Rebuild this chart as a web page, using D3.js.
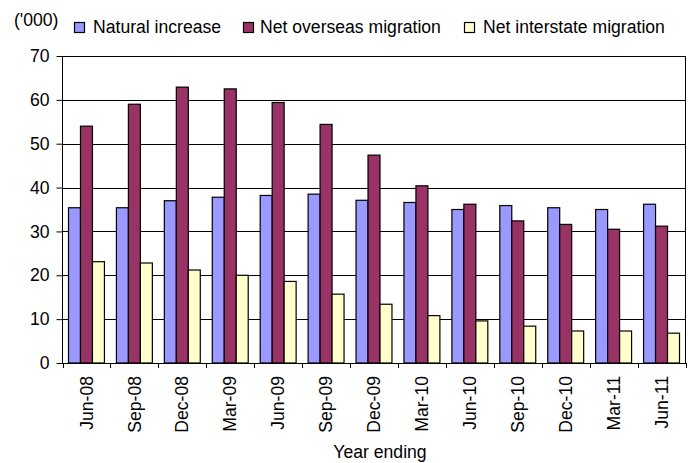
<!DOCTYPE html>
<html>
<head>
<meta charset="utf-8">
<script src="https://cdn.jsdelivr.net/npm/d3@7"></script>
<style>
  body { margin: 0; background: #fff; }
  text { font-family: "Liberation Sans", Arial, sans-serif; fill: #000; }
</style>
</head>
<body>
<div id="container"></div>
<script>
// chart data
var categories = ["Jun-08","Sep-08","Dec-08","Mar-09","Jun-09","Sep-09","Dec-09",
                  "Mar-10","Jun-10","Sep-10","Dec-10","Mar-11","Jun-11"];
var naturalIncrease = [35.4, 35.4, 37.0, 37.8, 38.2, 38.5, 37.1, 36.6, 35.0, 35.9, 35.4, 35.0, 36.2];
var netOverseas     = [54.0, 59.0, 62.9, 62.5, 59.4, 54.4, 47.4, 40.4, 36.2, 32.4, 31.6, 30.5, 31.2];
var netInterstate   = [23.1, 22.8, 21.2, 20.0, 18.6, 15.7, 13.4, 10.8, 9.6, 8.4, 7.3, 7.3, 6.8];
var seriesNames = ["Natural increase", "Net overseas migration", "Net interstate migration"];
var yTicks = [0, 10, 20, 30, 40, 50, 60, 70];

var seriesValues = [naturalIncrease, netOverseas, netInterstate];
var colors = ["#9999FF", "#993366", "#FFFFCC"];

var width = 693, height = 463;
// plot area edges (named so they don't clash with window.top)
var plotLeft = 62.5, plotRight = 685.5, plotTop = 56, plotBottom = 363;
var fontSize = "17.6px";

var svg = d3.select("#container").append("svg")
    .attr("width", width)
    .attr("height", height);

// scales
var x0 = d3.scaleBand()
    .domain(categories)
    .range([plotLeft, plotRight])
    .paddingInner(0.25)
    .paddingOuter(0.125);

var x1 = d3.scaleBand()
    .domain(d3.range(seriesNames.length))
    .range([0, x0.bandwidth()]);

var y = d3.scaleLinear()
    .domain([0, 70])
    .range([plotBottom, plotTop]);

// gridlines
svg.append("g")
    .selectAll("line")
    .data(yTicks)
    .join("line")
    .attr("x1", plotLeft)
    .attr("x2", plotRight)
    .attr("y1", function(d){ return Math.round(y(d)) + 0.5; })
    .attr("y2", function(d){ return Math.round(y(d)) + 0.5; })
    .style("stroke", "#000")
    .style("stroke-width", 1);

// bars
var groups = svg.append("g")
    .selectAll("g")
    .data(categories)
    .join("g")
    .attr("transform", function(d){ return "translate(" + x0(d) + ",0)"; });

groups.selectAll("rect")
    .data(function(d, i){
        return seriesValues.map(function(vals, s){ return {s: s, v: vals[i]}; });
    })
    .join("rect")
    .attr("x", function(d){ return x1(d.s); })
    .attr("y", function(d){ return y(d.v); })
    .attr("width", x1.bandwidth())
    .attr("height", function(d){ return y(0) - y(d.v); })
    .attr("fill", function(d){ return colors[d.s]; })
    .style("stroke", "#000")
    .style("stroke-width", 1.2);

// plot border
svg.append("rect")
    .attr("x", plotLeft)
    .attr("y", Math.round(y(70)) + 0.5)
    .attr("width", plotRight - plotLeft)
    .attr("height", Math.round(y(0)) - Math.round(y(70)))
    .attr("fill", "none")
    .style("stroke", "#000")
    .style("stroke-width", 1);

// y axis
var yAxis = svg.append("g")
    .attr("transform", "translate(" + plotLeft + ",0)")
    .call(d3.axisLeft(y).tickValues(yTicks).tickSize(6).tickPadding(7));
yAxis.selectAll("text").style("font-size", fontSize).attr("font-family", null);
yAxis.attr("font-family", null).attr("font-size", null);
yAxis.select(".domain").remove();
yAxis.selectAll("line").style("stroke", "#000");

// x axis: ticks between categories
var xAxisG = svg.append("g");
var boundaries = categories.map(function(c){ return x0(c) - x0.step() * x0.paddingInner() / 2; });
boundaries.push(plotRight);
xAxisG.selectAll("line.tick")
    .data(boundaries)
    .join("line")
    .attr("class", "tick")
    .attr("x1", function(d){ return Math.round(d) + 0.5; })
    .attr("x2", function(d){ return Math.round(d) + 0.5; })
    .attr("y1", plotBottom)
    .attr("y2", plotBottom + 5)
    .style("stroke", "#000");

xAxisG.selectAll("text")
    .data(categories)
    .join("text")
    .attr("transform", function(d){
        return "translate(" + (x0(d) + x0.bandwidth() / 2) + "," + (plotBottom + 13) + ") rotate(-90)";
    })
    .attr("text-anchor", "end")
    .attr("dy", "0.35em")
    .style("font-size", fontSize)
    .text(function(d){ return d; });

// x axis title
svg.append("text")
    .attr("x", 380)
    .attr("y", 458)
    .attr("text-anchor", "middle")
    .style("font-size", fontSize)
    .text("Year ending");

// units label
svg.append("text")
    .attr("x", 14)
    .attr("y", 26)
    .style("font-size", fontSize)
    .text("('000)");

// legend
var legendX = [74, 243, 464];
var legend = svg.append("g")
    .selectAll("g")
    .data(seriesNames)
    .join("g")
    .attr("transform", function(d, i){ return "translate(" + legendX[i] + ",22)"; });

legend.append("rect")
    .attr("x", 0.5)
    .attr("y", 0.5)
    .attr("width", 10)
    .attr("height", 10)
    .attr("fill", function(d, i){ return colors[i]; })
    .style("stroke", "#000")
    .style("stroke-width", 1.2);

legend.append("text")
    .attr("x", function(d, i){ return i === 1 ? 17 : 19; })
    .attr("y", 11)
    .style("font-size", fontSize)
    .text(function(d){ return d; });
</script>
</body>
</html>
